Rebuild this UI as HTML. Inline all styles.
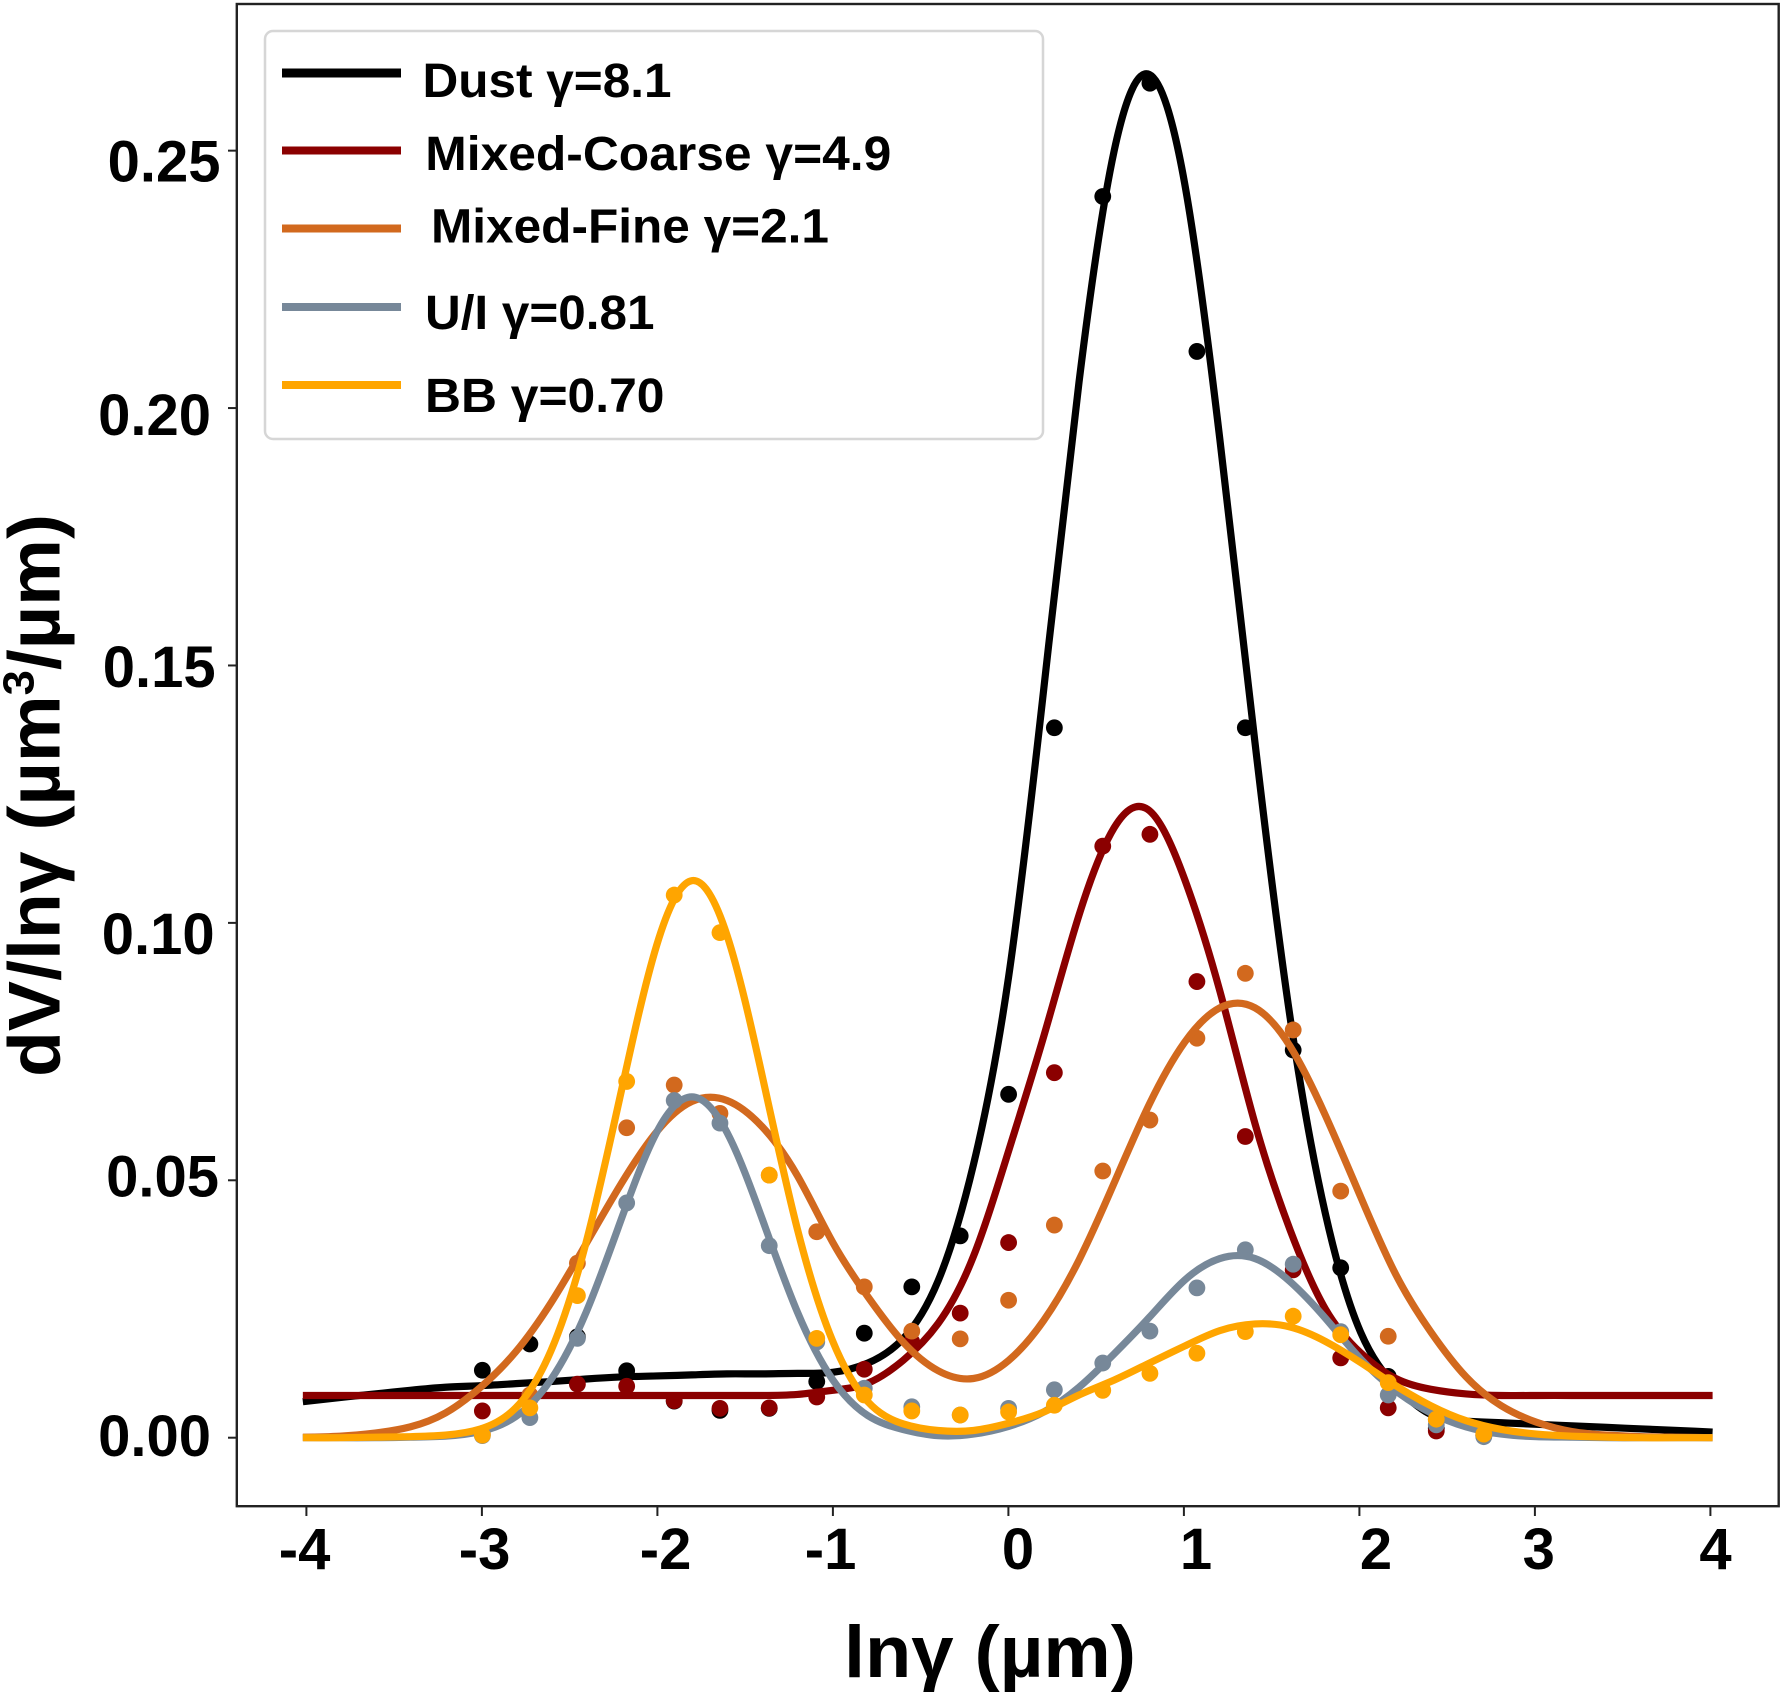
<!DOCTYPE html>
<html lang="en">
<head>
<meta charset="utf-8">
<title>Volume size distribution</title>
<style>
html,body{margin:0;padding:0;background:#fff;}
svg{display:block;}
text{font-family:"Liberation Sans",Arial,sans-serif;font-weight:700;fill:#000;}
</style>
</head>
<body>
<svg id="chart" xmlns="http://www.w3.org/2000/svg" width="1784" height="1696" viewBox="0 0 1784 1696">
  <rect x="0" y="0" width="1784" height="1696" fill="#fff"/>
  <g id="marks"></g>
  <rect x="236.8" y="4" width="1541.9" height="1502.2" fill="none" stroke="#222" stroke-width="2.4"/>
  <g id="axes"></g>
  <text x="844" y="1677" font-size="73" textLength="292" lengthAdjust="spacingAndGlyphs">lnγ (µm)</text>
  <text transform="translate(59.5 1077) rotate(-90)" x="0" y="0" font-size="73" textLength="563" lengthAdjust="spacingAndGlyphs">dV/lnγ (µm<tspan font-size="44" dy="-26">3</tspan><tspan dy="26">/µm)</tspan></text>
  <g>
    <rect x="265" y="31" width="778" height="408" rx="8" ry="8" fill="#fff" stroke="#d6d6d6" stroke-width="2.5"/>
    <rect x="282" y="68.5" width="119" height="9" fill="#000"/>
    <text x="422.5" y="97" font-size="48" textLength="249" lengthAdjust="spacingAndGlyphs">Dust γ=8.1</text>
    <rect x="282" y="146.5" width="119" height="8" fill="#8b0000"/>
    <text x="425.3" y="170" font-size="48" textLength="466" lengthAdjust="spacingAndGlyphs">Mixed-Coarse γ=4.9</text>
    <rect x="282" y="224.5" width="119" height="8" fill="#d2691e"/>
    <text x="431" y="242.7" font-size="48" textLength="398" lengthAdjust="spacingAndGlyphs">Mixed-Fine γ=2.1</text>
    <rect x="282" y="303" width="119" height="8" fill="#778899"/>
    <text x="425" y="329" font-size="48" textLength="229.5" lengthAdjust="spacingAndGlyphs">U/I γ=0.81</text>
    <rect x="282" y="381" width="119" height="8" fill="#ffa500"/>
    <text x="425" y="412" font-size="48" textLength="239.5" lengthAdjust="spacingAndGlyphs">BB γ=0.70</text>
  </g>
</svg>
<script>
/* ---------- data ---------- */
var xTicks = [-4, -3, -2, -1, 0, 1, 2, 3, 4];
var xTickLabels = ['-4', '-3', '-2', '-1', '0', '1', '2', '3', '4'];
var yTicks = [0.25, 0.20, 0.15, 0.10, 0.05, 0.00];
var yTickLabels = ['0.25', '0.20', '0.15', '0.10', '0.05', '0.00'];

var curveX = [-4.01,-3.8,-3.6,-3.4,-3.2,-3.0,-2.8,-2.6,-2.4,-2.2,-2.0,-1.8,-1.6,-1.4,-1.2,-1.0,-0.8,-0.6,-0.4,-0.2,0,0.2,0.4,0.6,0.8,1.0,1.2,1.4,1.6,1.8,2.0,2.2,2.4,2.6,2.8,3.0,3.2,3.4,3.6,3.8,4.0];

var dustCurve = [.0070,.0078,.0085,.0092,.0098,.0101,.0105,.0109,.0114,.0118,.0120,.0122,.0124,.0124,.0125,.0127,.0145,.0192,.0305,.0530,.0895,.1455,.2050,.2500,.2648,.2437,.1940,.1350,.0815,.0435,.0205,.0100,.0045,.0032,.0029,.0026,.0023,.0020,.0017,.0014,.0011];
var coarseCurve = [.0082,.0082,.0082,.0082,.0082,.0082,.0082,.0082,.0082,.0082,.0082,.0082,.0082,.0082,.0084,.0092,.0106,.0150,.0222,.0352,.0557,.0780,.1015,.1185,.1218,.1085,.0868,.0610,.0403,.0250,.0165,.0115,.0094,.0085,.0082,.0082,.0082,.0082,.0082,.0082,.0082];
var fineCurve = [.0001,.0003,.0009,.0021,.0048,.0098,.0167,.0262,.0377,.0494,.0594,.0653,.0655,.0604,.0509,.0380,.0274,.0186,.0130,.0115,.0150,.0228,.0345,.0495,.0648,.0768,.0835,.0835,.0760,.0626,.0468,.0317,.0205,.0118,.0062,.0030,.0012,.0005,.0002,.0001,0];
var uiCurve = [0,0,0,.0001,.0003,.0012,.0041,.0113,.0244,.0425,.0593,.0662,.0593,.0425,.0244,.0113,.0043,.0016,.0004,.0007,.0022,.0050,.0098,.0163,.0234,.0306,.0348,.0348,.0303,.0232,.0153,.0091,.0048,.0021,.0007,.0002,.0001,0,0,0,0];
var bbCurve = [0,0,.0001,.0002,.0005,.0017,.0058,.0169,.0380,.0674,.0956,.1082,.0976,.0703,.0405,.0188,.0070,.0027,.0014,.0014,.0028,.0050,.0083,.0112,.0145,.0178,.0208,.0221,.0215,.0187,.0146,.0101,.0062,.0033,.0016,.0007,.0003,.0001,0,0,0];

var pointX = [-2.99,-2.72,-2.45,-2.17,-1.90,-1.64,-1.36,-1.09,-.82,-.55,-.275,0,.26,.535,.803,1.07,1.345,1.617,1.887,2.157,2.43,2.70];

var dustPoints = [.0131,.0182,.0196,.0130,.0071,.0053,.0057,.0109,.0203,.0293,.0392,.0667,.1379,.2411,.2631,.2110,.1379,.0753,.0330,.0119,.0018,.0005];
var coarsePoints = [.0052,.0075,.0104,.0100,.0072,.0057,.0058,.0079,.0133,.0186,.0242,.0379,.0709,.1149,.1172,.0886,.0585,.0326,.0155,.0058,.0013,.0004];
var finePoints = [.0008,.0083,.0339,.0602,.0685,.0630,.0510,.0400,.0293,.0207,.0192,.0267,.0413,.0518,.0617,.0776,.0902,.0792,.0479,.0197,.0035,.0008];
var uiPoints = [.0004,.0039,.0193,.0456,.0655,.0611,.0373,.0186,.0096,.0060,.0044,.0057,.0093,.0145,.0207,.0291,.0365,.0337,.0206,.0083,.0025,.0002];
var bbPoints = [.0005,.0058,.0276,.0692,.1054,.0981,.0510,.0193,.0083,.0052,.0044,.0050,.0063,.0092,.0125,.0164,.0206,.0236,.0200,.0107,.0036,.0007];

/* ---------- layout ---------- */
var xTickLabelShift = [-1.8, 2.7, 8.2, -2.3, 9.6, 12.1, 16.6, 3.8, 5.1];
var yTickLabelRight = [220.5, 211, 215.7, 214.7, 219, 211];
var yTickLabelDrop = [31, 27, 21.5, 31, 16, 18.5];

var NS = 'http://www.w3.org/2000/svg';
var marks = document.getElementById('marks');
var axes = document.getElementById('axes');

function xScale(v) { return 1008.6 + v * 176; }
function xTickScale(v) { return 1008.4 + v * 175.5; }
function yScale(v) { return 1437.7 - v * 5148.2; }

function make(tag, attrs, parent) {
  var el = document.createElementNS(NS, tag);
  for (var k in attrs) { el.setAttribute(k, attrs[k]); }
  parent.appendChild(el);
  return el;
}

/* natural cubic spline through the read values, emitted as Bezier segments */
function smoothPath(xs, ys) {
  var n = xs.length;
  var X = xs.map(xScale), Y = ys.map(yScale);
  var h = [], i;
  for (i = 0; i < n - 1; i++) { h.push(X[i + 1] - X[i]); }
  var c = new Array(n).fill(0), z = new Array(n).fill(0), M = new Array(n).fill(0);
  for (i = 1; i < n - 1; i++) {
    var rhs = 6 * ((Y[i + 1] - Y[i]) / h[i] - (Y[i] - Y[i - 1]) / h[i - 1]);
    var den = 2 * (h[i - 1] + h[i]) - h[i - 1] * c[i - 1];
    c[i] = h[i] / den;
    z[i] = (rhs - h[i - 1] * z[i - 1]) / den;
  }
  for (i = n - 2; i > 0; i--) { M[i] = z[i] - c[i] * M[i + 1]; }
  var d = 'M' + X[0].toFixed(2) + ' ' + Y[0].toFixed(2);
  for (i = 0; i < n - 1; i++) {
    var s = (Y[i + 1] - Y[i]) / h[i];
    var m0 = s - h[i] * (2 * M[i] + M[i + 1]) / 6;
    var m1 = s + h[i] * (M[i] + 2 * M[i + 1]) / 6;
    d += 'C' + (X[i] + h[i] / 3).toFixed(2) + ' ' + (Y[i] + m0 * h[i] / 3).toFixed(2) + ' ' +
         (X[i + 1] - h[i] / 3).toFixed(2) + ' ' + (Y[i + 1] - m1 * h[i] / 3).toFixed(2) + ' ' +
         X[i + 1].toFixed(2) + ' ' + Y[i + 1].toFixed(2);
  }
  return d;
}

function drawSeries(seriesName, color, curve, points) {
  var group = make('g', {}, marks);
  
  
  points.forEach(function (v, i) {
    var dot = make('circle', { cx: xScale(pointX[i]).toFixed(2), cy: yScale(v).toFixed(2), r: 8.4, fill: color }, group);
    
    
  });
  var line = make('path', { d: smoothPath(curveX, curve), fill: 'none', stroke: color, 'stroke-width': 7.2, 'stroke-linejoin': 'round' }, group);
  
  
}

drawSeries('dust', '#000000', dustCurve, dustPoints);
drawSeries('mixed-coarse', '#8b0000', coarseCurve, coarsePoints);
drawSeries('mixed-fine', '#d2691e', fineCurve, finePoints);
drawSeries('ui', '#778899', uiCurve, uiPoints);
drawSeries('bb', '#ffa500', bbCurve, bbPoints);

xTicks.forEach(function (v, i) {
  var tick = make('line', { x1: xTickScale(v), x2: xTickScale(v), y1: 1507, y2: 1516, stroke: '#222', 'stroke-width': 2 }, axes);
  
  
  var label = make('text', { x: xTickScale(v) + xTickLabelShift[i], y: 1569, 'font-size': 58, 'text-anchor': 'middle' }, axes);
  label.textContent = xTickLabels[i];
  
  
});

yTicks.forEach(function (v, i) {
  var tick = make('line', { x1: 228, x2: 236, y1: yScale(v), y2: yScale(v), stroke: '#222', 'stroke-width': 2 }, axes);
  
  
  var label = make('text', { x: yTickLabelRight[i], y: yScale(v) + yTickLabelDrop[i], 'font-size': 58, 'text-anchor': 'end' }, axes);
  label.textContent = yTickLabels[i];
  
  
});
</script>
</body>
</html>
